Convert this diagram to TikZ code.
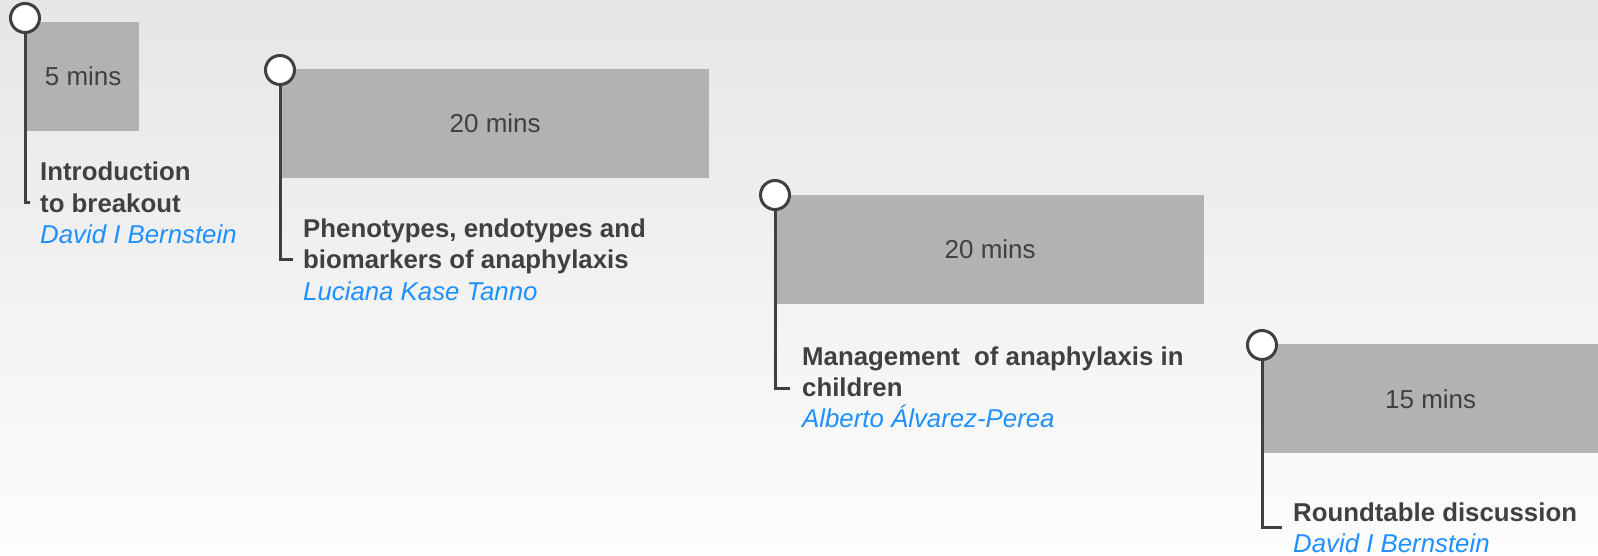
\documentclass[tikz,border=0pt]{standalone}
\usepackage{fontspec}
\setsansfont{Liberation Sans}
\usepackage{tikz}
\usetikzlibrary{positioning}

\definecolor{bgtop}{HTML}{E6E6E6}
\definecolor{bgbot}{HTML}{FDFDFD}
\definecolor{slotgray}{HTML}{B2B2B2}
\definecolor{inkgray}{HTML}{404040}
\definecolor{speaker}{HTML}{1E90FF}

\begin{document}
\begin{tikzpicture}[
  x=1pt, y=-1pt,
  font=\sffamily,
  slot/.style={
    fill=slotgray, draw=none, anchor=north west, inner sep=0pt,
    minimum height=109pt, text=inkgray,
    font=\sffamily\fontsize{26}{30}\selectfont
  },
  pin/.style={
    circle, draw=inkgray, fill=white, line width=3pt,
    minimum size=29pt, inner sep=0pt
  },
  stem/.style={draw=inkgray, line width=3pt},
  talk/.style={
    anchor=base west, inner sep=0pt, text=inkgray,
    font=\sffamily\bfseries\fontsize{25.8}{31.5}\selectfont
  },
  who/.style={
    anchor=base west, inner sep=0pt, text=speaker,
    font=\sffamily\itshape\fontsize{25.8}{31.5}\selectfont
  }
]

% --- fond ---
\shade[top color=bgtop, bottom color=bgbot] (0,0) rectangle (1598,555);
\useasboundingbox (0,0) rectangle (1598,555);

% --- 1. Introduction ---
\node[slot, minimum width=112pt] (introbox) at (27,22) {5 mins};
\node[pin] (introdot) at (25,18) {};
\coordinate (introfoot) at (30,202);
\draw[stem] (introdot.south) |- (introfoot);
\node[talk] (introtalk) at (40,180) {Introduction};
\node[talk] (introtalkb) at (40,212) {to breakout};
\node[who] (introwho) at (40,243) {David I Bernstein};

% --- 2. Phenotypes ---
\node[slot, minimum width=428pt] (phenobox) at (281,69) {20 mins};
\node[pin] (phenodot) at (280,70) {};
\coordinate (phenofoot) at (293,259);
\draw[stem] (phenodot.south) |- (phenofoot);
\node[talk] (phenotalk) at (303,237) {Phenotypes, endotypes and};
\node[talk] (phenotalkb) at (303,268) {biomarkers of anaphylaxis};
\node[who] (phenowho) at (303,300) {Luciana Kase Tanno};

% --- 3. Management ---
\node[slot, minimum width=428pt] (managebox) at (776,195) {20 mins};
\node[pin] (managedot) at (775,195) {};
\coordinate (managefoot) at (790,388);
\draw[stem] (managedot.south) |- (managefoot);
\node[talk] (managetalk) at (802,365) {Management~ of anaphylaxis in};
\node[talk] (managetalkb) at (802,396) {children};
\node[who] (managewho) at (802,427) {Alberto Álvarez-Perea};

% --- 4. Roundtable ---
\node[slot, minimum width=335pt] (roundbox) at (1263,344) {15 mins};
\node[pin] (rounddot) at (1262,345) {};
\coordinate (roundfoot) at (1282,527);
\draw[stem] (rounddot.south) |- (roundfoot);
\node[talk] (roundtalk) at (1293,521) {Roundtable discussion};
\node[who] (roundwho) at (1293,552) {David I Bernstein};

\end{tikzpicture}
\end{document}
